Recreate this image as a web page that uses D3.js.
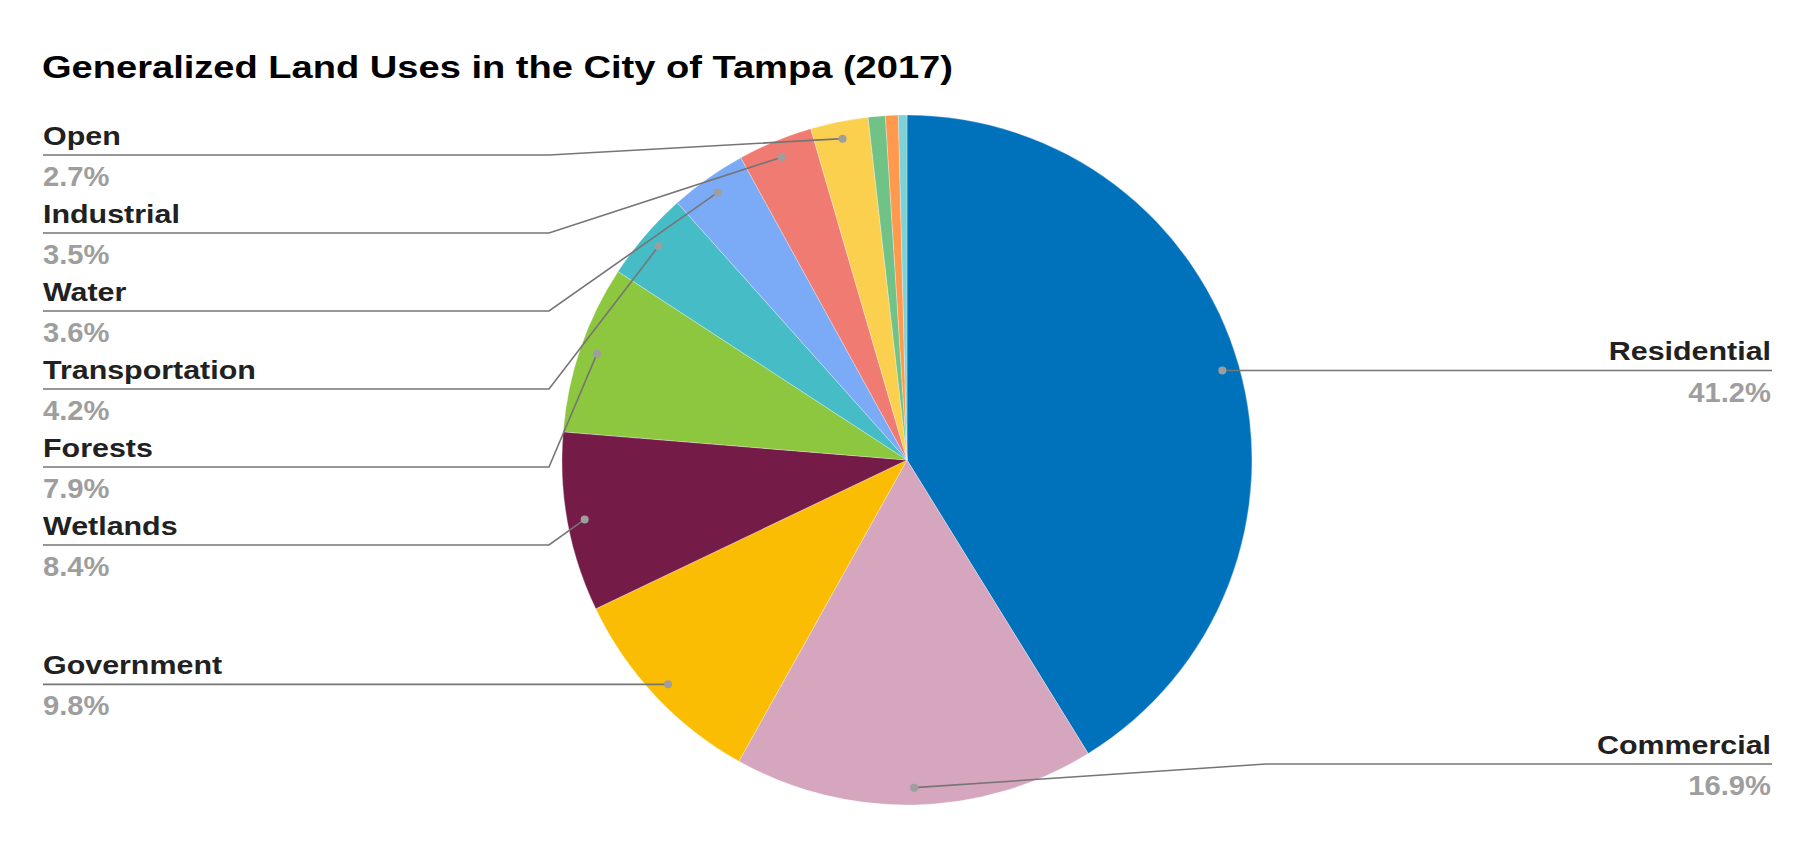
<!DOCTYPE html>
<html><head><meta charset="utf-8">
<script src="https://cdn.jsdelivr.net/npm/d3@7"></script>
<style>body{margin:0;background:#fff;} svg{display:block;font-family:"Liberation Sans",Arial,sans-serif;}</style>
</head><body><svg id="c" width="1816" height="847"></svg>
<script>
// ---- data ----
const title = "Generalized Land Uses in the City of Tampa (2017)";
const categories = ["Residential","Commercial","Government","Wetlands","Forests","Transportation","Water","Industrial","Open","Other 1","Other 2","Other 3"];
const values = [41.2,16.9,9.8,8.4,7.9,4.2,3.6,3.5,2.7,0.8,0.6,0.4];
const colors = ["#0072bc","#d5a6bd","#fbbc04","#741b47","#8dc63f","#46bdc6","#7baaf7","#f07b72","#fcd04f","#71c287","#ff994d","#7ed1d7"];
const showLabel = [true,true,true,true,true,true,true,true,true,false,false,false];

// ---- layout ----
const W=1816,H=847, cx=907, cy=460, R=345;
const svg = d3.select("#c");
svg.append("rect").attr("width",W).attr("height",H).attr("fill","#fff");

function stretchedText(sel, x, y, txt, opts){
  return sel.append("text")
    .attr("transform",`translate(${x},${y}) scale(${opts.sx},1)`)
    .attr("text-anchor",opts.anchor||"start")
    .attr("font-size",opts.size)
    .attr("font-weight","bold")
    .attr("fill",opts.color)
    .text(txt);
}

stretchedText(svg, 42, 78, title, {sx:1.19,size:32,color:"#000"});

const data = categories.map((c,i)=>({name:c, v:values[i], color:colors[i], lab:showLabel[i]}));
const total = d3.sum(values);
const arcs = d3.pie().sort(null).value(d=>d.v)(data);
const arc = d3.arc().innerRadius(0).outerRadius(R);
const g = svg.append("g").attr("transform",`translate(${cx},${cy})`);
g.selectAll("path").data(arcs).join("path")
  .attr("d",arc).attr("fill",d=>d.data.color)
  .attr("stroke","#fff").attr("stroke-width",0.3);

// label anchors
const rDot = R*0.95;
const items = arcs.filter(d=>d.data.lab).map(d=>{
  const a=(d.startAngle+d.endAngle)/2;
  return {d, x:cx+Math.sin(a)*rDot, y:cy-Math.cos(a)*rDot, side: Math.sin(a)<0?"L":"R"};
});
const spacing=78, topLim=155, botLim=764;
function layout(list){
  list.sort((a,b)=>a.y-b.y);
  let prev=-Infinity;
  list.forEach(it=>{ it.ly=Math.max(it.y, prev+spacing, topLim); prev=it.ly; });
  let next=Infinity;
  for(let i=list.length-1;i>=0;i--){ const it=list[i]; it.ly=Math.min(it.ly, next-spacing, botLim); next=it.ly; }
}
const left=items.filter(i=>i.side==="L"), right=items.filter(i=>i.side==="R");
layout(left); layout(right);

const pct = v=>d3.format(".1f")(v/total*100)+"%";
const lines = svg.append("g"), dots = svg.append("g"), texts=svg.append("g");
const xL0=43, xLk=549, xR0=1772, xRk=1266;
left.forEach(it=>{
  lines.append("polyline").attr("points",`${xL0},${it.ly} ${xLk},${it.ly} ${it.x},${it.y}`)
    .attr("fill","none").attr("stroke","#757575").attr("stroke-width",1.6);
  stretchedText(texts, xL0, it.ly-10.5, it.d.data.name, {sx:1.17,size:26,color:"#212121"});
  stretchedText(texts, xL0, it.ly+31, pct(it.d.data.v), {sx:1.08,size:27,color:"#9e9e9e"});
});
right.forEach(it=>{
  lines.append("polyline").attr("points",`${xR0},${it.ly} ${xRk},${it.ly} ${it.x},${it.y}`)
    .attr("fill","none").attr("stroke","#757575").attr("stroke-width",1.6);
  stretchedText(texts, xR0-1, it.ly-10.5, it.d.data.name, {sx:1.17,size:26,color:"#212121",anchor:"end"});
  stretchedText(texts, xR0-1, it.ly+31, pct(it.d.data.v), {sx:1.08,size:27,color:"#9e9e9e",anchor:"end"});
});
items.forEach(it=>{
  dots.append("circle").attr("cx",it.x).attr("cy",it.y).attr("r",4).attr("fill","#9e9e9e");
});
</script></body></html>
